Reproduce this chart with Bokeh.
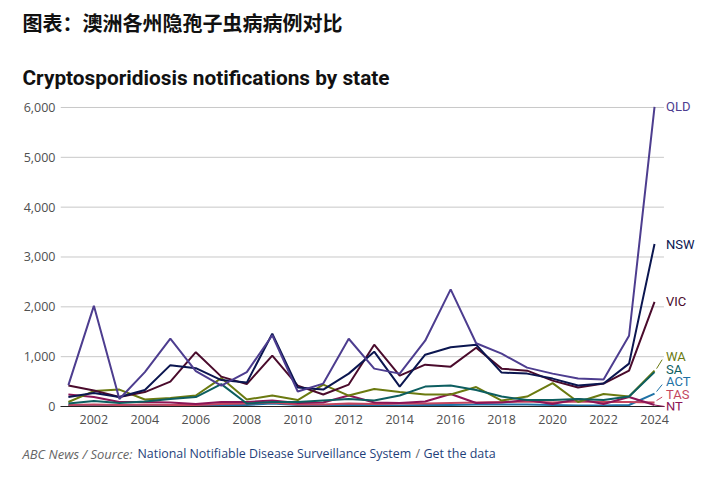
from bokeh.plotting import figure
from bokeh.models import Label, FixedTicker, NumeralTickFormatter
from bokeh.embed import file_html
from bokeh.resources import INLINE
from bokeh.core.properties import value

years = list(range(2001, 2025))

qld = [430, 2020, 150, 690, 1360, 710, 420, 690, 1430, 300, 460, 1360,
       760, 660, 1320, 2350, 1270, 1060, 780, 660, 560, 540, 1420, 6010]
nsw = [190, 270, 190, 330, 830, 770, 530, 480, 1460, 380, 340, 660,
       1100, 400, 1040, 1190, 1240, 680, 660, 560, 420, 460, 860, 3260]
vic = [420, 320, 190, 290, 500, 1090, 600, 450, 1020, 420, 240, 440,
       1240, 620, 840, 800, 1180, 760, 720, 520, 380, 460, 720, 2100]
wa = [90, 310, 340, 140, 170, 220, 570, 140, 220, 130, 440, 220,
      350, 290, 240, 240, 390, 120, 200, 470, 90, 250, 200, 720]
sa = [60, 110, 70, 100, 150, 190, 450, 60, 90, 90, 120, 150,
      120, 220, 400, 420, 330, 200, 130, 130, 150, 130, 200, 690]
act = [20, 30, 20, 20, 20, 20, 30, 30, 60, 30, 20, 30,
       30, 20, 30, 30, 40, 40, 40, 30, 20, 20, 30, 260]
tas = [30, 40, 30, 40, 30, 30, 50, 60, 80, 40, 40, 60,
       50, 60, 60, 70, 80, 90, 100, 80, 100, 90, 90, 80]
nt = [240, 190, 90, 90, 80, 50, 90, 90, 120, 70, 80, 220,
      80, 70, 100, 250, 70, 80, 130, 50, 150, 50, 190, 30]

states = ["QLD", "NSW", "VIC", "WA", "SA", "ACT", "TAS", "NT"]
series = {"QLD": qld, "NSW": nsw, "VIC": vic, "WA": wa, "SA": sa,
          "ACT": act, "TAS": tas, "NT": nt}
colors = {"QLD": "#4d3d8f", "NSW": "#0b1650", "VIC": "#4a0b2c", "WA": "#6b7a10",
          "SA": "#0d5e60", "ACT": "#1f72a6", "TAS": "#c4465f", "NT": "#8c1556"}
draw_order = ["ACT", "TAS", "NT", "WA", "SA", "VIC", "NSW", "QLD"]

y_ticks = [0, 1000, 2000, 3000, 4000, 5000, 6000]
x_ticks = list(range(2002, 2025, 2))

W, H = 728, 486
FL, FR, FT, FB = 60, 705, 100, 410  # frame edges in canvas pixels
Y0, Y1 = -80, 6140
p = figure(width=W, height=H, output_backend="svg", toolbar_location=None,
           x_range=(2000.69, 2026.0), y_range=(Y0, Y1),
           min_border_left=FL, min_border_right=W - FR,
           min_border_top=FT, min_border_bottom=H - FB)
p.title.visible = False
p.outline_line_color = None
p.background_fill_color = "white"
p.border_fill_color = None
p.xgrid.visible = False
p.ygrid.visible = False

tick_font = "Open Sans"
for ax in (p.xaxis[0], p.yaxis[0]):
    ax.axis_line_color = None
    ax.major_tick_line_color = None
    ax.minor_tick_line_color = None
    ax.major_tick_out = 0
    ax.major_tick_in = 0
    ax.minor_tick_out = 0
    ax.minor_tick_in = 0
    ax.major_label_text_font = tick_font
    ax.major_label_text_font_size = "12.5px"
    ax.major_label_text_color = "#505050"
p.yaxis.major_label_standoff = 5
p.xaxis.major_label_standoff = 4
p.yaxis.ticker = FixedTicker(ticks=y_ticks)
p.yaxis.formatter = NumeralTickFormatter(format="0,0")
p.xaxis.ticker = FixedTicker(ticks=x_ticks)

# gridlines (stop at the end of the data area)
gx0, gx1 = 2000.69, 2024.37
grid_vals = y_ticks[1:]
p.segment(x0=[gx0] * len(grid_vals), x1=[gx1] * len(grid_vals),
          y0=grid_vals, y1=grid_vals, line_color="#c8c8c8", line_width=1)

for s in draw_order:
    p.line(years, series[s], line_color=colors[s], line_width=2)

# baseline
p.segment(x0=[2000.6], x1=[gx1], y0=[0], y1=[0], line_color="#222222", line_width=1.2)

# end labels with dodging
ends = {s: series[s][-1] for s in states}
gap = 250
lab_pos = {}
prev = None
for s in sorted(states, key=lambda k: ends[k]):
    pos = ends[s] - 30 if prev is None else max(ends[s], prev + gap)
    lab_pos[s] = pos
    prev = pos

lx = 2024.45
last = years[-1]
for s in states:
    e, lp = ends[s], lab_pos[s]
    if lp - e > 100:
        p.segment(x0=[last + 0.08], x1=[last + 0.3], y0=[e + 40], y1=[lp - 60],
                  line_color=colors[s], line_width=1)
    elif s == "NT":
        p.segment(x0=[last], x1=[lx - 0.05], y0=[e], y1=[lp],
                  line_color=colors[s], line_width=1)
p.text(x=[lx] * len(states), y=[lab_pos[s] for s in states], text=states,
       text_color=[colors[s] for s in states], text_font=value("Roboto"),
       text_font_size="13px", text_baseline="middle", text_align="left")

# Headings / footer: labels placed in side panels (not clipped); x in screen
# pixels from the frame's left edge, y through the plot's own y scale.
k = (FB - FT) / (Y1 - Y0)

def yval(iy):
    return (FB - iy) / k + Y0

def add_text(text, ix, iy, font, size, style, color, side):
    p.add_layout(Label(x=ix - FL, y=yval(iy), x_units="screen", y_units="data",
                       text=text, text_font=font, text_font_style=style,
                       text_font_size=size, text_color=color, text_baseline="middle"),
                 side)

add_text("图表：澳洲各州隐孢子虫病病例对比", 22, 22, "Noto Sans CJK SC", "20px",
         "bold", "#111111", "above")
add_text("Cryptosporidiosis notifications by state", 22, 77, "Roboto", "20.8px",
         "bold", "#111111", "above")

foot = [("ABC News / Source:", 22, "#666666", "italic", "13px", "above"),
        ("National Notifiable Disease Surveillance System", 137, "#1f3f7a", "normal", "12.4px", "above"),
        ("/", 415, "#666666", "normal", "12.5px", "below"),
        ("Get the data", 423, "#1f3f7a", "normal", "12.5px", "below")]
for t, ix, c, st, fs, side in foot:
    add_text(t, ix, 453, "Open Sans", fs, st, c, side)

open("out.html", "w").write(file_html(p, INLINE))
